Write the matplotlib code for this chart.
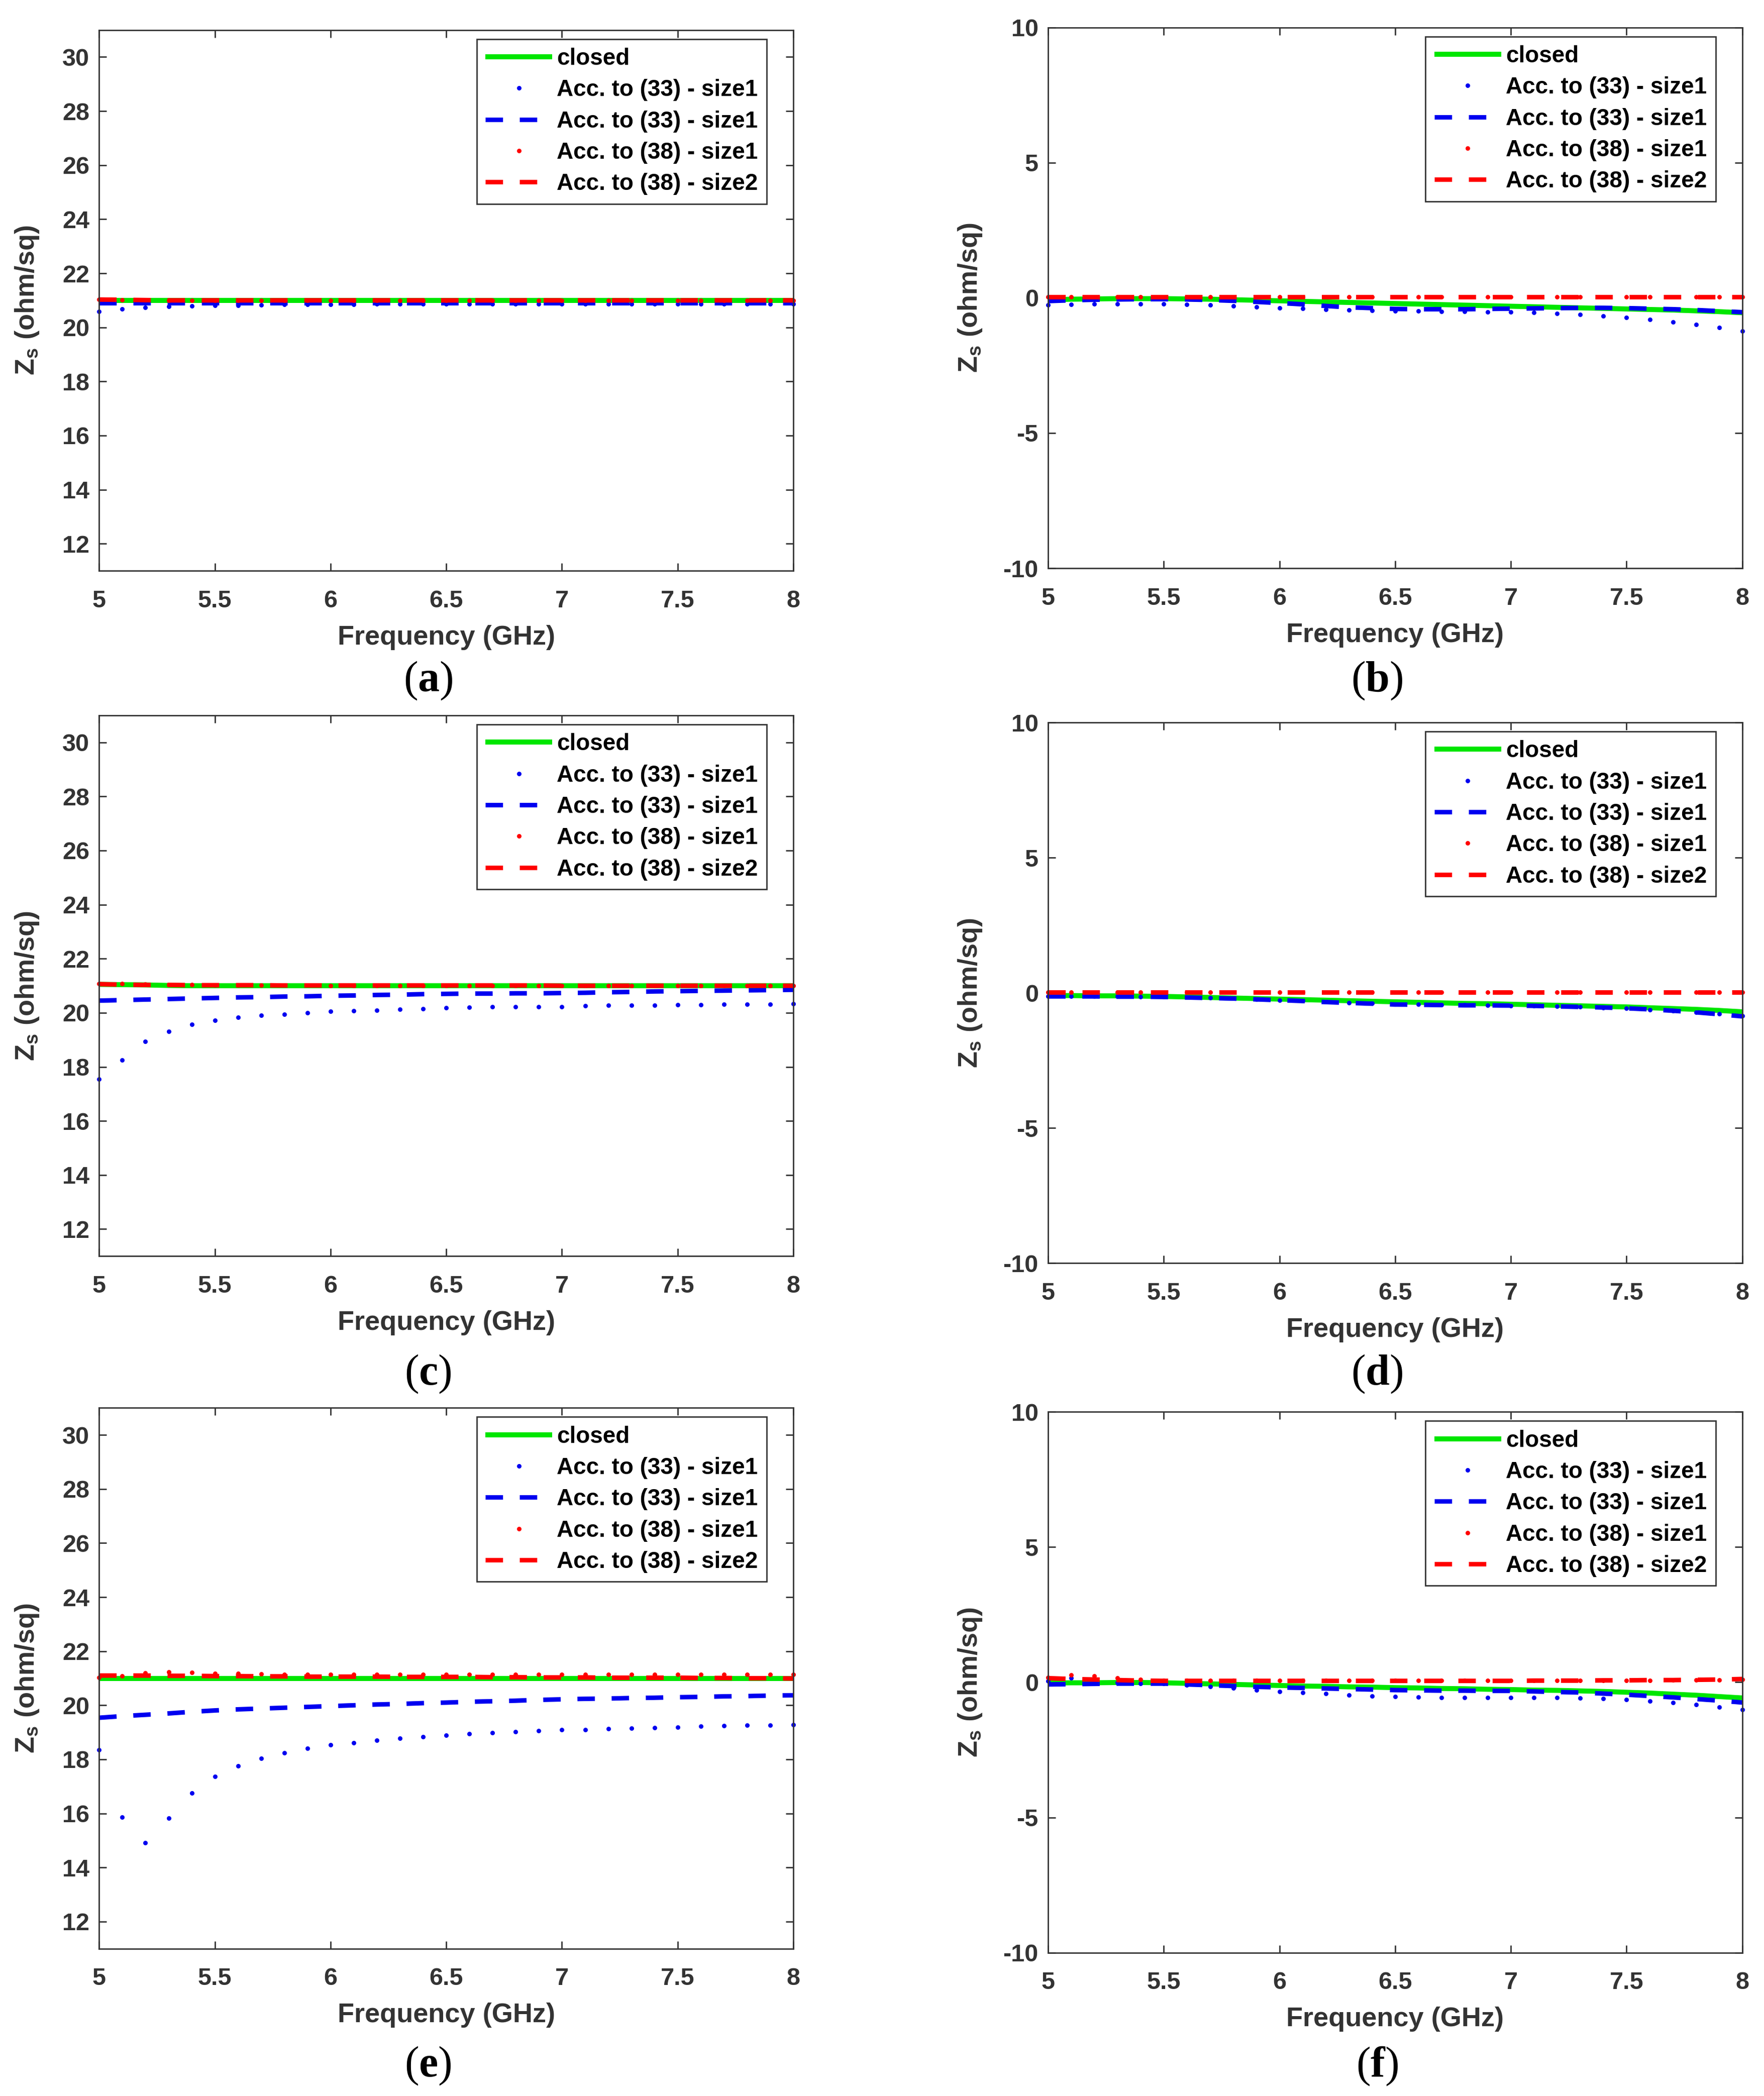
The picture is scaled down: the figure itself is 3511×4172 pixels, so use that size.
import matplotlib
matplotlib.use('Agg')
import matplotlib.pyplot as plt

plt.rcParams['font.family'] = ['Liberation Sans', 'DejaVu Sans']
plt.rcParams['font.weight'] = 'bold'
plt.rcParams['axes.labelweight'] = 'bold'
plt.rcParams['mathtext.fontset'] = 'custom'
plt.rcParams['mathtext.rm'] = 'Liberation Serif'
plt.rcParams['mathtext.bf'] = 'Liberation Serif:bold'
plt.rcParams['mathtext.default'] = 'regular'
plt.rcParams['lines.scale_dashes'] = False

# frequency grid (GHz)
freq = [5.0, 5.1, 5.2, 5.3, 5.4, 5.5, 5.6, 5.7, 5.8, 5.9, 6.0, 6.1, 6.2, 6.3, 6.4, 6.5,
        6.6, 6.7, 6.8, 6.9, 7.0, 7.1, 7.2, 7.3, 7.4, 7.5, 7.6, 7.7, 7.8, 7.9, 8.0]

legend_labels = ['closed', 'Acc. to (33) - size1', 'Acc. to (33) - size1',
                 'Acc. to (38) - size1', 'Acc. to (38) - size2']
xtick_vals = [5, 5.5, 6, 6.5, 7, 7.5, 8]
xtick_labels = ['5', '5.5', '6', '6.5', '7', '7.5', '8']

# ---- (a) ----
closed_a = [21.0] * 31
dots33_a = [20.58, 20.69, 20.74, 20.77, 20.80, 20.81, 20.82, 20.83, 20.84, 20.85, 20.85,
            20.85, 20.86, 20.86, 20.86, 20.86, 20.86, 20.87, 20.87, 20.87, 20.87, 20.87,
            20.87, 20.87, 20.87, 20.87, 20.87, 20.87, 20.87, 20.87, 20.87]
dash33_a = [20.90] * 31
dots38_a = [21.03, 21.01, 21.01] + [21.0] * 28
dash38_a = [21.03, 21.02, 21.01] + [21.0] * 28

# ---- (c) ----
closed_c = [21.05, 21.04, 21.03, 21.01] + [21.0] * 27
dots33_c = [17.55, 18.25, 18.93, 19.32, 19.57, 19.72, 19.83, 19.90, 19.95, 20.00, 20.05,
            20.07, 20.10, 20.12, 20.15, 20.18, 20.20, 20.22, 20.22, 20.23, 20.23, 20.25,
            20.27, 20.27, 20.28, 20.30, 20.30, 20.32, 20.32, 20.32, 20.33]
dash33_c = [20.45, 20.47, 20.49, 20.51, 20.53, 20.55, 20.57, 20.58, 20.60, 20.61, 20.63,
            20.64, 20.66, 20.67, 20.69, 20.70, 20.71, 20.71, 20.72, 20.72, 20.73, 20.74,
            20.76, 20.77, 20.79, 20.80, 20.81, 20.82, 20.83, 20.84, 20.85]
dots38_c = [21.07, 21.08, 21.06, 21.03, 21.03, 21.02, 21.02, 21.02, 21.02, 21.02, 21.01,
            21.01, 21.01, 21.01, 21.01, 21.01, 21.01, 21.01, 21.0, 21.0, 21.0, 21.0,
            21.0, 21.0, 21.0, 21.0, 21.0, 21.0, 21.0, 21.0, 21.0]
dash38_c = [21.06, 21.04, 21.03, 21.03, 21.02, 21.02, 21.02, 21.02, 21.01, 21.01, 21.01,
            21.01, 21.01, 21.01, 21.01, 21.01, 21.01, 21.01, 21.01, 21.01, 21.0, 21.0,
            21.0, 21.0, 21.0, 21.0, 21.0, 21.0, 21.0, 21.0, 21.0]

# ---- (e) ----
closed_e = [21.0] * 31
dots33_e = [18.36, 15.86, 14.91, 15.82, 16.75, 17.36, 17.75, 18.04, 18.24, 18.41, 18.53,
            18.61, 18.70, 18.78, 18.83, 18.90, 18.94, 18.99, 19.02, 19.05, 19.09, 19.10,
            19.14, 19.15, 19.17, 19.19, 19.22, 19.24, 19.26, 19.27, 19.29]
dash33_e = [19.54, 19.60, 19.65, 19.70, 19.76, 19.81, 19.85, 19.88, 19.91, 19.94, 19.97,
            20.00, 20.03, 20.05, 20.08, 20.10, 20.13, 20.15, 20.17, 20.20, 20.22, 20.24,
            20.25, 20.27, 20.28, 20.30, 20.31, 20.33, 20.34, 20.36, 20.37]
dots38_e = [21.03, 21.08, 21.20, 21.23, 21.22, 21.18, 21.17, 21.15, 21.14, 21.14, 21.14,
            21.14, 21.14, 21.14, 21.14, 21.14, 21.14, 21.14, 21.14, 21.14, 21.14, 21.14,
            21.14, 21.14, 21.14, 21.14, 21.14, 21.14, 21.14, 21.14, 21.14]
dash38_e = [21.10, 21.10, 21.10, 21.09, 21.09, 21.08, 21.08, 21.07, 21.07, 21.06, 21.06,
            21.06, 21.06, 21.05, 21.05, 21.05, 21.05, 21.04, 21.04, 21.03, 21.03, 21.03,
            21.02, 21.02, 21.02, 21.02, 21.01, 21.01, 21.0, 21.0, 20.99]

# ---- (b) ----
closed_b = [-0.08, -0.05, -0.04, -0.03, -0.03, -0.03, -0.04, -0.05, -0.07, -0.09, -0.11,
            -0.13, -0.15, -0.17, -0.19, -0.21, -0.23, -0.25, -0.27, -0.29, -0.31, -0.33,
            -0.35, -0.37, -0.39, -0.41, -0.43, -0.45, -0.48, -0.51, -0.55]
dots33_b = [-0.27, -0.25, -0.23, -0.22, -0.23, -0.23, -0.25, -0.27, -0.30, -0.33, -0.37,
            -0.40, -0.43, -0.45, -0.47, -0.48, -0.49, -0.50, -0.51, -0.52, -0.53, -0.55,
            -0.58, -0.62, -0.67, -0.73, -0.80, -0.90, -0.98, -1.10, -1.22]
dash33_b = [-0.12, -0.09, -0.07, -0.06, -0.05, -0.05, -0.06, -0.08, -0.11, -0.15, -0.19,
            -0.24, -0.30, -0.35, -0.38, -0.41, -0.42, -0.42, -0.42, -0.41, -0.40, -0.39,
            -0.38, -0.37, -0.37, -0.38, -0.40, -0.42, -0.45, -0.49, -0.53]
dots38_b = [0.03] * 31
dash38_b = [0.03] * 31

# ---- (d) ----
closed_d = [-0.10, -0.10, -0.11, -0.11, -0.12, -0.13, -0.15, -0.17, -0.19, -0.21, -0.23,
            -0.25, -0.27, -0.29, -0.31, -0.33, -0.35, -0.37, -0.39, -0.40, -0.42, -0.44,
            -0.46, -0.48, -0.50, -0.52, -0.55, -0.58, -0.61, -0.65, -0.70]
dots33_d = [-0.12, -0.12, -0.12, -0.13, -0.14, -0.15, -0.16, -0.18, -0.20, -0.23, -0.27,
            -0.30, -0.33, -0.36, -0.39, -0.42, -0.43, -0.44, -0.45, -0.46, -0.47, -0.48,
            -0.50, -0.52, -0.55, -0.58, -0.62, -0.67, -0.72, -0.78, -0.85]
dash33_d = [-0.13, -0.13, -0.13, -0.14, -0.14, -0.15, -0.17, -0.19, -0.21, -0.24, -0.27,
            -0.30, -0.34, -0.37, -0.40, -0.43, -0.44, -0.45, -0.46, -0.46, -0.47, -0.48,
            -0.50, -0.52, -0.54, -0.57, -0.61, -0.66, -0.72, -0.79, -0.87]
dots38_d = [0.03] * 31
dash38_d = [0.03] * 31

# ---- (f) ----
closed_f = [-0.03, -0.02, -0.02, -0.01, -0.01, -0.02, -0.04, -0.06, -0.08, -0.10, -0.12,
            -0.14, -0.15, -0.17, -0.18, -0.20, -0.21, -0.23, -0.24, -0.26, -0.27, -0.29,
            -0.30, -0.32, -0.34, -0.37, -0.40, -0.44, -0.48, -0.53, -0.58]
dots33_f = [0.05, 0.15, 0.0, -0.01, -0.04, -0.05, -0.10, -0.15, -0.22, -0.29, -0.34,
            -0.39, -0.42, -0.48, -0.51, -0.53, -0.54, -0.56, -0.56, -0.56, -0.56, -0.56,
            -0.56, -0.58, -0.61, -0.65, -0.70, -0.76, -0.83, -0.92, -1.02]
dash33_f = [-0.08, -0.07, -0.06, -0.05, -0.05, -0.05, -0.08, -0.11, -0.14, -0.17, -0.19,
            -0.21, -0.23, -0.25, -0.27, -0.29, -0.30, -0.31, -0.31, -0.32, -0.32, -0.34,
            -0.36, -0.38, -0.42, -0.46, -0.51, -0.56, -0.62, -0.68, -0.75]
dots38_f = [0.17, 0.27, 0.24, 0.15, 0.10, 0.07, 0.07, 0.06, 0.06, 0.06, 0.06,
            0.06, 0.06, 0.06, 0.06, 0.06, 0.06, 0.06, 0.06, 0.06, 0.06, 0.06,
            0.06, 0.06, 0.06, 0.07, 0.07, 0.08, 0.08, 0.09, 0.10]
dash38_f = [0.15, 0.12, 0.10, 0.08, 0.06, 0.05, 0.05, 0.05, 0.05, 0.05, 0.05,
            0.05, 0.05, 0.05, 0.05, 0.05, 0.05, 0.05, 0.05, 0.05, 0.05, 0.06,
            0.06, 0.06, 0.07, 0.07, 0.08, 0.08, 0.09, 0.10, 0.12]

GREEN = '#00e600'
BLUE = '#0000f0'
RED = '#ff0000'
DARK = '#333333'


def draw_panel(ax, closed, dots33, dash33, dots38, dash38, ylim, yticks, ylab_x):
    ax.plot(freq, closed, color=GREEN, lw=7.2, solid_capstyle='butt', label=legend_labels[0])
    ax.plot(freq, dots33, ls='none', marker='o', ms=6.5, mew=0, color=BLUE,
            clip_on=False, label=legend_labels[1])
    ax.plot(freq, dash33, color=BLUE, lw=6.5, dashes=[25, 24], dash_capstyle='butt',
            label=legend_labels[2])
    ax.plot(freq, dots38, ls='none', marker='o', ms=6.5, mew=0, color=RED,
            clip_on=False, label=legend_labels[3])
    ax.plot(freq, dash38, color=RED, lw=6.5, dashes=[25, 24], dash_capstyle='butt',
            label=legend_labels[4])

    ax.set_xlim(5, 8)
    ax.set_ylim(*ylim)
    ax.set_xticks(xtick_vals)
    ax.set_xticklabels(xtick_labels)
    ax.set_yticks(yticks)
    ax.set_yticklabels([str(v) for v in yticks])
    ax.tick_params(axis='both', direction='in', length=11, width=2, top=True, right=True,
                   labelsize=35, colors=DARK)
    ax.tick_params(axis='x', pad=27)
    ax.tick_params(axis='y', pad=14)
    for s in ax.spines.values():
        s.set_linewidth(2)
        s.set_color(DARK)

    ax.set_xlabel('Frequency (GHz)', fontsize=39, color=DARK)
    ax.set_ylabel('Z$_s$ (ohm/sq)', fontsize=39, color=DARK)
    ax.xaxis.set_label_coords(0.5, -0.100)
    ax.yaxis.set_label_coords(ylab_x, 0.5)

    leg = ax.legend(loc='upper right', bbox_to_anchor=(0.9616, 0.9833), borderaxespad=0,
                    fontsize=33, handlelength=2.9, handletextpad=0.2, borderpad=0.38,
                    labelspacing=0.40, numpoints=1, fancybox=False, framealpha=1)
    leg.get_frame().set_edgecolor(DARK)
    leg.get_frame().set_linewidth(2)
    for txt in leg.get_texts():
        txt.set_color('black')


fig = plt.figure(figsize=(35.12, 41.72), dpi=100)

w, h = 0.3934, 0.258
zs_ticks = [12, 14, 16, 18, 20, 22, 24, 26, 28, 30]
im_ticks = [-10, -5, 0, 5, 10]

ax_a = fig.add_axes([0.0562, 0.7277, w, h])
draw_panel(ax_a, closed_a, dots33_a, dash33_a, dots38_a, dash38_a, (11, 31), zs_ticks, -0.084)
ax_b = fig.add_axes([0.594, 0.7289, w, h])
draw_panel(ax_b, closed_b, dots33_b, dash33_b, dots38_b, dash38_b, (-10, 10), im_ticks, -0.093)
ax_c = fig.add_axes([0.0562, 0.4007, w, h])
draw_panel(ax_c, closed_c, dots33_c, dash33_c, dots38_c, dash38_c, (11, 31), zs_ticks, -0.084)
ax_d = fig.add_axes([0.594, 0.3973, w, h])
draw_panel(ax_d, closed_d, dots33_d, dash33_d, dots38_d, dash38_d, (-10, 10), im_ticks, -0.093)
ax_e = fig.add_axes([0.0562, 0.0703, w, h])
draw_panel(ax_e, closed_e, dots33_e, dash33_e, dots38_e, dash38_e, (11, 31), zs_ticks, -0.084)
ax_f = fig.add_axes([0.594, 0.0684, w, h])
draw_panel(ax_f, closed_f, dots33_f, dash33_f, dots38_f, dash38_f, (-10, 10), im_ticks, -0.093)

# panel letters
panel_tags = ['a', 'b', 'c', 'd', 'e', 'f']
tag_x = [0.2426, 0.7805, 0.2426, 0.7805, 0.2426, 0.7805]
tag_y = [0.6752, 0.6752, 0.3444, 0.3444, 0.0142, 0.0142]
for t, tx, ty in zip(panel_tags, tag_x, tag_y):
    fig.text(tx, ty, r'$(\mathbf{' + t + '})$', ha='center', va='center', fontsize=62,
             family='Liberation Serif', weight='normal', color='black')

fig.savefig('out.png', dpi=100, facecolor='white')
